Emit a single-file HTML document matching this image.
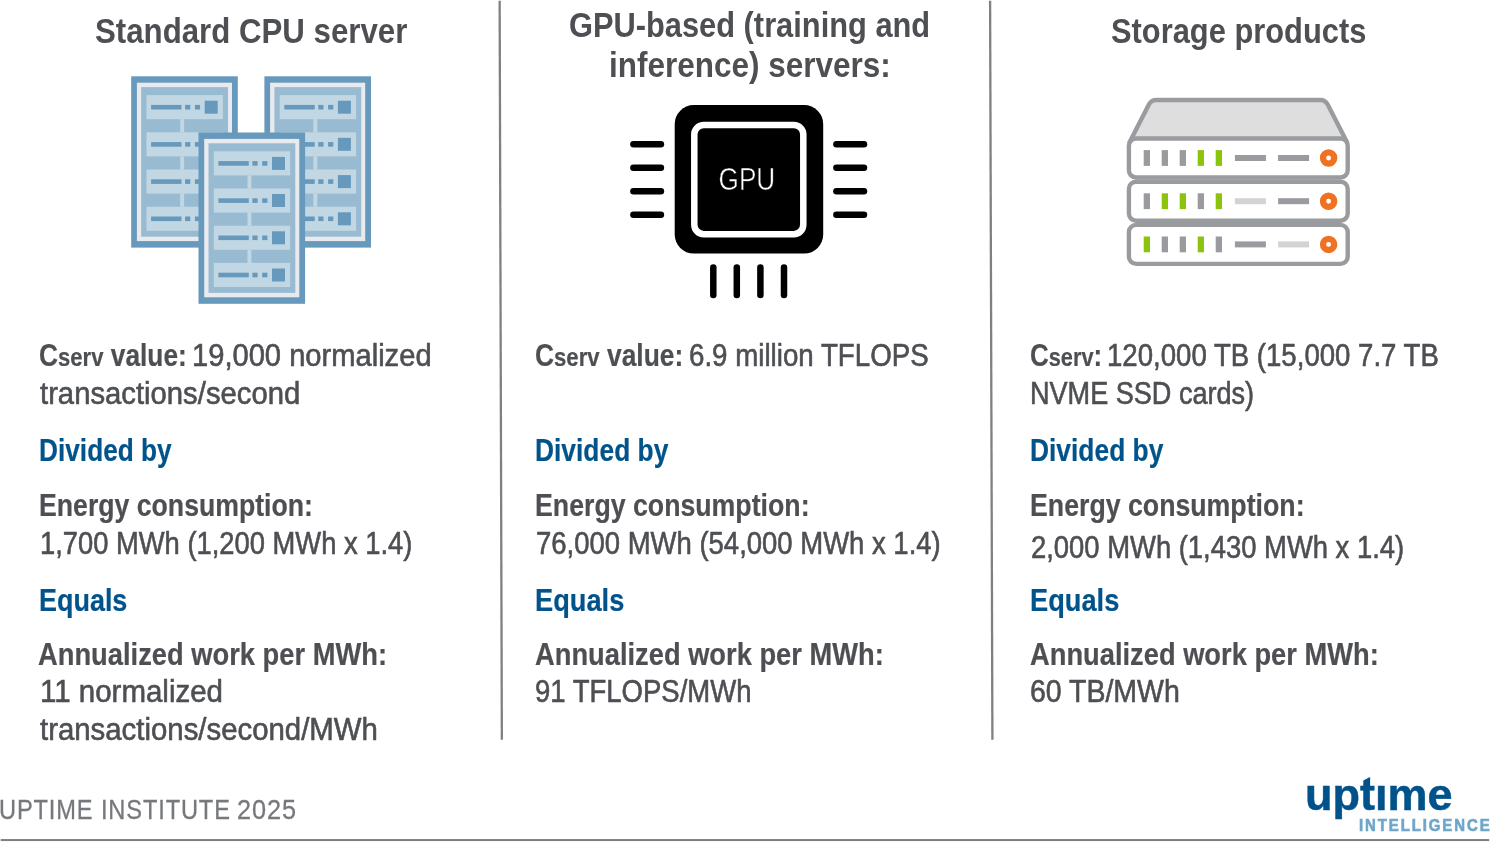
<!DOCTYPE html>
<html lang="en">
<head>
<meta charset="utf-8">
<title>Work per energy: examples</title>
<style>
html,body{margin:0;padding:0;background:#fff;}
body{width:1490px;height:845px;position:relative;overflow:hidden;font-family:"Liberation Sans", sans-serif;}
.t{position:absolute;white-space:pre;line-height:1;transform-origin:0 0;font-weight:400;}
.b{font-weight:700;}
.sm{font-size:.84em;}
svg{position:absolute;left:0;top:0;}
#dot{position:absolute;left:1374.5px;top:774px;width:12.5px;height:10px;background:#fff;}
</style>
</head>
<body>
<svg width="1490" height="845" viewBox="0 0 1490 845">
<line x1="499.65" y1="0.8" x2="501.85" y2="739.8" stroke="#808080" stroke-width="2.3"/><line x1="990.1" y1="0.8" x2="992.4" y2="739.8" stroke="#808080" stroke-width="2.3"/><rect x="0.7" y="839.05" width="1488.5" height="2" fill="#7e7e80"/>
<g transform="translate(131.2,76.3)"><rect x="0" y="0" width="106.6" height="171.3" fill="#6799bc"/><rect x="5.7" y="6.4" width="95.1" height="158.4" fill="#e8eaee"/><rect x="10" y="10.8" width="86.8" height="149.6" fill="#99bbd2"/><rect x="15.3" y="18.8" width="76.4" height="24.1" fill="#c1d7e4"/><rect x="19.9" y="28.6" width="30.4" height="4.6" fill="#6799bc"/><rect x="53.9" y="28.6" width="5.2" height="4.6" fill="#6799bc"/><rect x="63.7" y="28.6" width="5.2" height="4.6" fill="#6799bc"/><rect x="73.5" y="24.4" width="13" height="13" fill="#6799bc"/><rect x="49" y="42.8" width="3.9" height="13.3" fill="#c1d7e4"/><rect x="15.3" y="56.0" width="76.4" height="24.1" fill="#c1d7e4"/><rect x="19.9" y="65.8" width="30.4" height="4.6" fill="#6799bc"/><rect x="53.9" y="65.8" width="5.2" height="4.6" fill="#6799bc"/><rect x="63.7" y="65.8" width="5.2" height="4.6" fill="#6799bc"/><rect x="73.5" y="61.5" width="13" height="13" fill="#6799bc"/><rect x="49" y="80.0" width="3.9" height="13.3" fill="#c1d7e4"/><rect x="15.3" y="93.2" width="76.4" height="24.1" fill="#c1d7e4"/><rect x="19.9" y="103.0" width="30.4" height="4.6" fill="#6799bc"/><rect x="53.9" y="103.0" width="5.2" height="4.6" fill="#6799bc"/><rect x="63.7" y="103.0" width="5.2" height="4.6" fill="#6799bc"/><rect x="73.5" y="98.8" width="13" height="13" fill="#6799bc"/><rect x="49" y="117.2" width="3.9" height="13.3" fill="#c1d7e4"/><rect x="15.3" y="130.4" width="76.4" height="24.1" fill="#c1d7e4"/><rect x="19.9" y="140.2" width="30.4" height="4.6" fill="#6799bc"/><rect x="53.9" y="140.2" width="5.2" height="4.6" fill="#6799bc"/><rect x="63.7" y="140.2" width="5.2" height="4.6" fill="#6799bc"/><rect x="73.5" y="136.0" width="13" height="13" fill="#6799bc"/></g><g transform="translate(264.4,76.3)"><rect x="0" y="0" width="106.6" height="171.3" fill="#6799bc"/><rect x="5.7" y="6.4" width="95.1" height="158.4" fill="#e8eaee"/><rect x="10" y="10.8" width="86.8" height="149.6" fill="#99bbd2"/><rect x="15.3" y="18.8" width="76.4" height="24.1" fill="#c1d7e4"/><rect x="19.9" y="28.6" width="30.4" height="4.6" fill="#6799bc"/><rect x="53.9" y="28.6" width="5.2" height="4.6" fill="#6799bc"/><rect x="63.7" y="28.6" width="5.2" height="4.6" fill="#6799bc"/><rect x="73.5" y="24.4" width="13" height="13" fill="#6799bc"/><rect x="49" y="42.8" width="3.9" height="13.3" fill="#c1d7e4"/><rect x="15.3" y="56.0" width="76.4" height="24.1" fill="#c1d7e4"/><rect x="19.9" y="65.8" width="30.4" height="4.6" fill="#6799bc"/><rect x="53.9" y="65.8" width="5.2" height="4.6" fill="#6799bc"/><rect x="63.7" y="65.8" width="5.2" height="4.6" fill="#6799bc"/><rect x="73.5" y="61.5" width="13" height="13" fill="#6799bc"/><rect x="49" y="80.0" width="3.9" height="13.3" fill="#c1d7e4"/><rect x="15.3" y="93.2" width="76.4" height="24.1" fill="#c1d7e4"/><rect x="19.9" y="103.0" width="30.4" height="4.6" fill="#6799bc"/><rect x="53.9" y="103.0" width="5.2" height="4.6" fill="#6799bc"/><rect x="63.7" y="103.0" width="5.2" height="4.6" fill="#6799bc"/><rect x="73.5" y="98.8" width="13" height="13" fill="#6799bc"/><rect x="49" y="117.2" width="3.9" height="13.3" fill="#c1d7e4"/><rect x="15.3" y="130.4" width="76.4" height="24.1" fill="#c1d7e4"/><rect x="19.9" y="140.2" width="30.4" height="4.6" fill="#6799bc"/><rect x="53.9" y="140.2" width="5.2" height="4.6" fill="#6799bc"/><rect x="63.7" y="140.2" width="5.2" height="4.6" fill="#6799bc"/><rect x="73.5" y="136.0" width="13" height="13" fill="#6799bc"/></g><g transform="translate(198.5,132.5)"><rect x="0" y="0" width="106.6" height="171.3" fill="#6799bc"/><rect x="5.7" y="6.4" width="95.1" height="158.4" fill="#e8eaee"/><rect x="10" y="10.8" width="86.8" height="149.6" fill="#99bbd2"/><rect x="15.3" y="18.8" width="76.4" height="24.1" fill="#c1d7e4"/><rect x="19.9" y="28.6" width="30.4" height="4.6" fill="#6799bc"/><rect x="53.9" y="28.6" width="5.2" height="4.6" fill="#6799bc"/><rect x="63.7" y="28.6" width="5.2" height="4.6" fill="#6799bc"/><rect x="73.5" y="24.4" width="13" height="13" fill="#6799bc"/><rect x="49" y="42.8" width="3.9" height="13.3" fill="#c1d7e4"/><rect x="15.3" y="56.0" width="76.4" height="24.1" fill="#c1d7e4"/><rect x="19.9" y="65.8" width="30.4" height="4.6" fill="#6799bc"/><rect x="53.9" y="65.8" width="5.2" height="4.6" fill="#6799bc"/><rect x="63.7" y="65.8" width="5.2" height="4.6" fill="#6799bc"/><rect x="73.5" y="61.5" width="13" height="13" fill="#6799bc"/><rect x="49" y="80.0" width="3.9" height="13.3" fill="#c1d7e4"/><rect x="15.3" y="93.2" width="76.4" height="24.1" fill="#c1d7e4"/><rect x="19.9" y="103.0" width="30.4" height="4.6" fill="#6799bc"/><rect x="53.9" y="103.0" width="5.2" height="4.6" fill="#6799bc"/><rect x="63.7" y="103.0" width="5.2" height="4.6" fill="#6799bc"/><rect x="73.5" y="98.8" width="13" height="13" fill="#6799bc"/><rect x="49" y="117.2" width="3.9" height="13.3" fill="#c1d7e4"/><rect x="15.3" y="130.4" width="76.4" height="24.1" fill="#c1d7e4"/><rect x="19.9" y="140.2" width="30.4" height="4.6" fill="#6799bc"/><rect x="53.9" y="140.2" width="5.2" height="4.6" fill="#6799bc"/><rect x="63.7" y="140.2" width="5.2" height="4.6" fill="#6799bc"/><rect x="73.5" y="136.0" width="13" height="13" fill="#6799bc"/></g>
<rect x="674.7" y="105.1" width="148.5" height="148.5" rx="19" fill="#000"/><rect x="694.3" y="125" width="109" height="109.2" rx="9.5" fill="none" stroke="#fff" stroke-width="6.5"/><line x1="633.4" y1="144.2" x2="660.9" y2="144.2" stroke="#000" stroke-width="6.5" stroke-linecap="round"/><line x1="836.4" y1="144.2" x2="864" y2="144.2" stroke="#000" stroke-width="6.5" stroke-linecap="round"/><line x1="633.4" y1="167.7" x2="660.9" y2="167.7" stroke="#000" stroke-width="6.5" stroke-linecap="round"/><line x1="836.4" y1="167.7" x2="864" y2="167.7" stroke="#000" stroke-width="6.5" stroke-linecap="round"/><line x1="633.4" y1="191.2" x2="660.9" y2="191.2" stroke="#000" stroke-width="6.5" stroke-linecap="round"/><line x1="836.4" y1="191.2" x2="864" y2="191.2" stroke="#000" stroke-width="6.5" stroke-linecap="round"/><line x1="633.4" y1="214.7" x2="660.9" y2="214.7" stroke="#000" stroke-width="6.5" stroke-linecap="round"/><line x1="836.4" y1="214.7" x2="864" y2="214.7" stroke="#000" stroke-width="6.5" stroke-linecap="round"/><line x1="713.3" y1="267.4" x2="713.3" y2="294.9" stroke="#000" stroke-width="6.5" stroke-linecap="round"/><line x1="736.8" y1="267.4" x2="736.8" y2="294.9" stroke="#000" stroke-width="6.5" stroke-linecap="round"/><line x1="760.4" y1="267.4" x2="760.4" y2="294.9" stroke="#000" stroke-width="6.5" stroke-linecap="round"/><line x1="784" y1="267.4" x2="784" y2="294.9" stroke="#000" stroke-width="6.5" stroke-linecap="round"/><text x="718.6" y="190.2" font-family="Liberation Sans, sans-serif" font-size="31" fill="#fff" stroke="#000" stroke-width="0.5" textLength="56.6" lengthAdjust="spacingAndGlyphs">GPU</text>
<path d="M1129.7 142 L1148.9 104.5 Q1151.3 100 1156.3 100 L1320.3 100 Q1325.3 100 1327.7 104.5 L1346.9 142 Z" fill="#dedede" stroke="#999b9e" stroke-width="4.4" stroke-linejoin="round"/><rect x="1128.9" y="138.5" width="218.8" height="39.0" rx="7.2" fill="#fff" stroke="#999b9e" stroke-width="4.4"/><rect x="1143.7" y="150.1" width="6.3" height="15.8" fill="#999b9e"/><rect x="1161.7" y="150.1" width="6.3" height="15.8" fill="#999b9e"/><rect x="1179.7" y="150.1" width="6.3" height="15.8" fill="#999b9e"/><rect x="1197.7" y="150.1" width="6.3" height="15.8" fill="#8cc30d"/><rect x="1215.7" y="150.1" width="6.3" height="15.8" fill="#8cc30d"/><rect x="1234.9" y="155.0" width="31" height="6" fill="#999b9e"/><rect x="1278.1" y="155.0" width="31" height="6" fill="#999b9e"/><circle cx="1328.6" cy="158.0" r="5.6" fill="#fff" stroke="#f07121" stroke-width="6.3"/><rect x="1128.9" y="181.7" width="218.8" height="39.0" rx="7.2" fill="#fff" stroke="#999b9e" stroke-width="4.4"/><rect x="1143.7" y="193.3" width="6.3" height="15.8" fill="#999b9e"/><rect x="1161.7" y="193.3" width="6.3" height="15.8" fill="#8cc30d"/><rect x="1179.7" y="193.3" width="6.3" height="15.8" fill="#8cc30d"/><rect x="1197.7" y="193.3" width="6.3" height="15.8" fill="#999b9e"/><rect x="1215.7" y="193.3" width="6.3" height="15.8" fill="#8cc30d"/><rect x="1234.9" y="198.2" width="31" height="6" fill="#d2d3d5"/><rect x="1278.1" y="198.2" width="31" height="6" fill="#999b9e"/><circle cx="1328.6" cy="201.2" r="5.6" fill="#fff" stroke="#f07121" stroke-width="6.3"/><rect x="1128.9" y="224.9" width="218.8" height="39.0" rx="7.2" fill="#fff" stroke="#999b9e" stroke-width="4.4"/><rect x="1143.7" y="236.5" width="6.3" height="15.8" fill="#8cc30d"/><rect x="1161.7" y="236.5" width="6.3" height="15.8" fill="#999b9e"/><rect x="1179.7" y="236.5" width="6.3" height="15.8" fill="#999b9e"/><rect x="1197.7" y="236.5" width="6.3" height="15.8" fill="#8cc30d"/><rect x="1215.7" y="236.5" width="6.3" height="15.8" fill="#999b9e"/><rect x="1234.9" y="241.4" width="31" height="6" fill="#999b9e"/><rect x="1278.1" y="241.4" width="31" height="6" fill="#d2d3d5"/><circle cx="1328.6" cy="244.4" r="5.6" fill="#fff" stroke="#f07121" stroke-width="6.3"/>
<polygon points="1363.3,780.6 1370.1,777.1 1370.1,786 1363.3,786" fill="#00528a"/>
</svg>
<section id="col1">
<div class="t" id="h1" style="left:94.62px;top:14px;font-size:35.5px;color:#4d4f53;transform:scaleX(0.8794);"><span class="b">Standard CPU server</span></div>
<div class="t" id="c1l1a" style="left:39.14px;top:340px;font-size:30.5px;color:#4d4f53;transform:scaleX(0.8625);-webkit-text-stroke:0.2px #4d4f53;"><span class="b">C</span><span class="b sm">serv</span><span class="b"> value:</span></div>
<div class="t" id="c1l1b" style="left:192.09px;top:340px;font-size:30.5px;color:#4d4f53;transform:scaleX(0.9547);-webkit-text-stroke:0.6px #4d4f53;">19,000 normalized</div>
<div class="t" id="c1l2" style="left:40px;top:378px;font-size:30.5px;color:#4d4f53;transform:scaleX(0.9593);-webkit-text-stroke:0.6px #4d4f53;">transactions/second</div>
<div class="t" id="c1d" style="left:38.88px;top:435px;font-size:30.5px;color:#00538b;transform:scaleX(0.8605);-webkit-text-stroke:0.2px #00538b;"><span class="b">Divided by</span></div>
<div class="t" id="c1e" style="left:38.85px;top:490px;font-size:30.5px;color:#4d4f53;transform:scaleX(0.8738);-webkit-text-stroke:0.2px #4d4f53;"><span class="b">Energy consumption:</span></div>
<div class="t" id="c1ev" style="left:40.21px;top:528px;font-size:30.5px;color:#4d4f53;transform:scaleX(0.8966);-webkit-text-stroke:0.6px #4d4f53;">1,700 MWh (1,200 MWh x 1.4)</div>
<div class="t" id="c1q" style="left:38.83px;top:585px;font-size:30.5px;color:#00538b;transform:scaleX(0.8835);-webkit-text-stroke:0.2px #00538b;"><span class="b">Equals</span></div>
<div class="t" id="c1a" style="left:38.4px;top:639px;font-size:30.5px;color:#4d4f53;transform:scaleX(0.8956);-webkit-text-stroke:0.2px #4d4f53;"><span class="b">Annualized work per MWh:</span></div>
<div class="t" id="c1a1" style="left:39.97px;top:676px;font-size:30.5px;color:#4d4f53;transform:scaleX(0.9667);-webkit-text-stroke:0.6px #4d4f53;">11 normalized</div>
<div class="t" id="c1a2" style="left:40px;top:714px;font-size:30.5px;color:#4d4f53;transform:scaleX(0.9628);-webkit-text-stroke:0.6px #4d4f53;">transactions/second/MWh</div>
</section>
<section id="col2">
<div class="t" id="h2a" style="left:568.63px;top:8px;font-size:35.5px;color:#4d4f53;transform:scaleX(0.8678);"><span class="b">GPU-based (training and</span></div>
<div class="t" id="h2b" style="left:608.93px;top:48px;font-size:35.5px;color:#4d4f53;transform:scaleX(0.8869);"><span class="b">inference) servers:</span></div>
<div class="t" id="c2l1a" style="left:535.44px;top:340px;font-size:30.5px;color:#4d4f53;transform:scaleX(0.8649);-webkit-text-stroke:0.2px #4d4f53;"><span class="b">C</span><span class="b sm">serv</span><span class="b"> value:</span></div>
<div class="t" id="c2l1b" style="left:689.09px;top:340px;font-size:30.5px;color:#4d4f53;transform:scaleX(0.9084);-webkit-text-stroke:0.6px #4d4f53;">6.9 million TFLOPS</div>
<div class="t" id="c2d" style="left:534.57px;top:435px;font-size:30.5px;color:#00538b;transform:scaleX(0.8645);-webkit-text-stroke:0.2px #00538b;"><span class="b">Divided by</span></div>
<div class="t" id="c2e" style="left:534.55px;top:490px;font-size:30.5px;color:#4d4f53;transform:scaleX(0.8757);-webkit-text-stroke:0.2px #4d4f53;"><span class="b">Energy consumption:</span></div>
<div class="t" id="c2ev" style="left:536px;top:528px;font-size:30.5px;color:#4d4f53;transform:scaleX(0.9009);-webkit-text-stroke:0.6px #4d4f53;">76,000 MWh (54,000 MWh x 1.4)</div>
<div class="t" id="c2q" style="left:534.51px;top:585px;font-size:30.5px;color:#00538b;transform:scaleX(0.8928);-webkit-text-stroke:0.2px #00538b;"><span class="b">Equals</span></div>
<div class="t" id="c2a" style="left:534.71px;top:639px;font-size:30.5px;color:#4d4f53;transform:scaleX(0.8948);-webkit-text-stroke:0.2px #4d4f53;"><span class="b">Annualized work per MWh:</span></div>
<div class="t" id="c2a1" style="left:535.4px;top:676px;font-size:30.5px;color:#4d4f53;transform:scaleX(0.9013);-webkit-text-stroke:0.6px #4d4f53;">91 TFLOPS/MWh</div>
</section>
<section id="col3">
<div class="t" id="h3" style="left:1110.83px;top:14px;font-size:35.5px;color:#4d4f53;transform:scaleX(0.8688);"><span class="b">Storage products</span></div>
<div class="t" id="c3l1a" style="left:1030.45px;top:340px;font-size:30.5px;color:#4d4f53;transform:scaleX(0.8506);-webkit-text-stroke:0.2px #4d4f53;"><span class="b">C</span><span class="b sm">serv</span><span class="b">:</span></div>
<div class="t" id="c3l1b" style="left:1107.39px;top:340px;font-size:30.5px;color:#4d4f53;transform:scaleX(0.9047);-webkit-text-stroke:0.6px #4d4f53;">120,000 TB (15,000 7.7 TB</div>
<div class="t" id="c3l2" style="left:1029.52px;top:378px;font-size:30.5px;color:#4d4f53;transform:scaleX(0.8876);-webkit-text-stroke:0.6px #4d4f53;">NVME SSD cards)</div>
<div class="t" id="c3d" style="left:1029.57px;top:435px;font-size:30.5px;color:#00538b;transform:scaleX(0.8645);-webkit-text-stroke:0.2px #00538b;"><span class="b">Divided by</span></div>
<div class="t" id="c3e" style="left:1029.55px;top:490px;font-size:30.5px;color:#4d4f53;transform:scaleX(0.8757);-webkit-text-stroke:0.2px #4d4f53;"><span class="b">Energy consumption:</span></div>
<div class="t" id="c3ev" style="left:1031px;top:532px;font-size:30.5px;color:#4d4f53;transform:scaleX(0.8985);-webkit-text-stroke:0.6px #4d4f53;">2,000 MWh (1,430 MWh x 1.4)</div>
<div class="t" id="c3q" style="left:1029.51px;top:585px;font-size:30.5px;color:#00538b;transform:scaleX(0.8928);-webkit-text-stroke:0.2px #00538b;"><span class="b">Equals</span></div>
<div class="t" id="c3a" style="left:1029.71px;top:639px;font-size:30.5px;color:#4d4f53;transform:scaleX(0.8948);-webkit-text-stroke:0.2px #4d4f53;"><span class="b">Annualized work per MWh:</span></div>
<div class="t" id="c3a1" style="left:1030.37px;top:676px;font-size:30.5px;color:#4d4f53;transform:scaleX(0.9335);-webkit-text-stroke:0.6px #4d4f53;">60 TB/MWh</div>
</section>
<footer>
<div class="t" id="ft" style="left:-1.05px;top:797px;font-size:27px;color:#76787c;transform:scaleX(0.8747);letter-spacing:1px;-webkit-text-stroke:0.3px #76787c;">UPTIME INSTITUTE </div>
<div class="t" id="ft2" style="left:237.06px;top:797px;font-size:27px;color:#76787c;transform:scaleX(0.9361);letter-spacing:1px;-webkit-text-stroke:0.3px #76787c;">2025</div>
<div class="t" id="lg1" style="left:1305.13px;top:774px;font-size:43.5px;color:#00528a;transform:scaleX(1.0343);-webkit-text-stroke:0.5px #00528a;"><span class="b">uptime</span></div>
<div class="t" id="lg2" style="left:1358.94px;top:818px;font-size:15.6px;color:#6ea6c9;transform:scaleX(0.9578);letter-spacing:2px;-webkit-text-stroke:0.6px #6ea6c9;"><span class="b">INTELLIGENCE</span></div>
<div id="dot"></div>
</footer>
</body>
</html>
